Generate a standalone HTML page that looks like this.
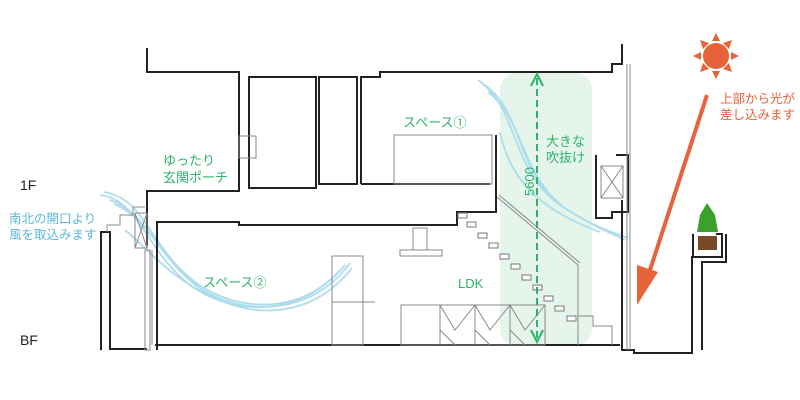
<!DOCTYPE html>
<html><head><meta charset="utf-8"><style>
html,body{margin:0;padding:0;background:#fff;width:800px;height:400px;overflow:hidden}
text{font-family:"Liberation Sans","Noto Sans CJK JP",sans-serif}
</style></head><body>
<svg width="800" height="400" viewBox="0 0 800 400" xmlns="http://www.w3.org/2000/svg">
<rect x="500" y="73" width="92" height="272" rx="16" fill="#e6f5ec"/>
<g fill="none" stroke="#a9dcec" stroke-width="1.8" opacity="0.95">
<path d="M100 195 C140 200 145 250 190 285 C230 315 300 320 345 265"/>
<path d="M104 192 C145 198 150 248 195 282 C235 312 300 316 340 270"/>
<path d="M110 200 C150 215 155 255 200 288 C240 315 310 318 350 263"/>
<path d="M114 204 C152 220 160 262 205 292 C245 318 310 322 352 268"/>
<path d="M125 230 C150 250 170 280 220 300"/>
<path d="M478 80 C520 110 510 170 560 205 C590 225 615 235 625 240"/>
<path d="M488 92 C525 120 520 175 565 208 C595 228 615 233 628 238"/>
<path d="M500 132 C510 180 540 210 600 232"/>
<path d="M485 85 C525 115 515 172 562 206"/>
</g>
<g fill="none" stroke="#222" stroke-width="2">
<path d="M147 48 V72 H239 V191 H147 V246"/>
<rect x="249" y="77" width="67" height="111"/>
<rect x="319" y="77" width="38" height="107"/>
<path d="M361 184 V77 H380 V72 H612 V64 H622 V44"/>
<path d="M361 184 H490"/>
<path d="M496 135 V212 H457 V225 H239 V222 H157 V350"/>
<path d="M101 350 V232 H110 V349 H147"/>
<path d="M155 345 H620"/>
<path d="M622 200 V350 H634 V353 H692 V257 H722 V234 H716"/>
<path d="M702 350 V262 H726 V234"/>
<path d="M693 234 V257"/>
<path d="M596 155 V218 H612 V212 H628 V155 H616"/>
</g>
<g fill="none" stroke="#888" stroke-width="1">
<rect x="239" y="136" width="17" height="22"/>
<rect x="394" y="135" width="98" height="49"/>
<path d="M627 64 V350 M630 64 V350"/>
<rect x="601" y="166" width="22" height="32"/>
<path d="M601 166 L623 198 M623 166 L601 198"/>
<rect x="135" y="213" width="12" height="35"/>
<path d="M135 213 L147 248 M147 213 L135 248"/>
<rect x="145" y="250" width="5" height="100"/>
<path d="M152 250 V345 M107 232 V225 H120 V215 H133 V207 H145"/>
<rect x="332" y="256" width="31" height="89"/>
<path d="M332 302 H375"/>
<rect x="413" y="228" width="14" height="22"/>
<rect x="400" y="250" width="42" height="6"/>
<rect x="401" y="305" width="144" height="40"/>
<path d="M440 305 V345 M475 305 V345 M510 305 V345 M440 305 L455 330 L475 305 M475 305 L490 330 L510 305 M510 305 L525 330 L545 305 M440 330 L455 345 M475 330 L490 345 M510 330 L525 345"/>
<path d="M497 197 L578 265 V345 M499 195 L580 263"/>
<path d="M578 316 H593 V326 H612 V345"/>
</g>
<g fill="#fff" stroke="#777" stroke-width="1">
<rect x="458" y="213" width="9" height="5"/><rect x="467" y="222" width="9" height="5"/><rect x="478" y="233" width="9" height="5"/><rect x="489" y="243" width="9" height="5"/><rect x="500" y="254" width="9" height="5"/><rect x="511" y="264" width="9" height="5"/><rect x="522" y="275" width="9" height="5"/><rect x="533" y="285" width="9" height="5"/><rect x="544" y="296" width="9" height="5"/><rect x="555" y="306" width="9" height="5"/><rect x="567" y="316" width="9" height="5"/>
</g>
<line x1="537" y1="78" x2="537" y2="338" stroke="#2db36b" stroke-width="2" stroke-dasharray="7,4"/>
<path d="M531 86 L537 74 L543 86" fill="none" stroke="#2db36b" stroke-width="2"/>
<path d="M531 330 L537 342 L543 330" fill="none" stroke="#2db36b" stroke-width="2"/>
<g fill="#e8623a">
<circle cx="716" cy="56" r="13"/>
<path d="M716 33 l-4 8 h8z M716 79 l-4 -8 h8z M693 56 l8 -4 v8z M739 56 l-8 -4 v8z M700 40 l3 9 l6 -6z M732 40 l-3 9 l-6 -6z M700 72 l3 -9 l6 6z M732 72 l-3 -9 l-6 6z"/>
</g>
<line x1="707" y1="95" x2="650" y2="270" stroke="#e8623a" stroke-width="4"/>
<path d="M637 305 L637 265 L658 272 Z" fill="#e8623a"/>
<rect x="698" y="236" width="19" height="14" fill="#7a4a24"/>
<path d="M707 203 L715 215 L718 232 L697 232 L700 215 Z" fill="#3aa12a"/>
<g font-size="13" fill="#2db36b">
<text x="163" y="165">ゆったり</text>
<text x="163" y="182">玄関ポーチ</text>
<text x="403" y="127">スペース①</text>
<text x="546" y="146">大きな</text>
<text x="546" y="162">吹抜け</text>
<text x="203" y="287">スペース②</text>
<text x="458" y="288">LDK</text>
<text transform="translate(534 196) rotate(-90)" font-size="13">5600</text>
</g>
<g font-size="12.5" fill="#5bb8e0">
<text x="9" y="223">南北の開口より</text>
<text x="9" y="239">風を取込みます</text>
</g>
<g font-size="12.5" fill="#e8623a">
<text x="720" y="103">上部から光が</text>
<text x="720" y="119">差し込みます</text>
</g>
<g font-size="14" fill="#222">
<text x="20" y="190">1F</text>
<text x="20" y="345">BF</text>
</g>
</svg>
</body></html>
